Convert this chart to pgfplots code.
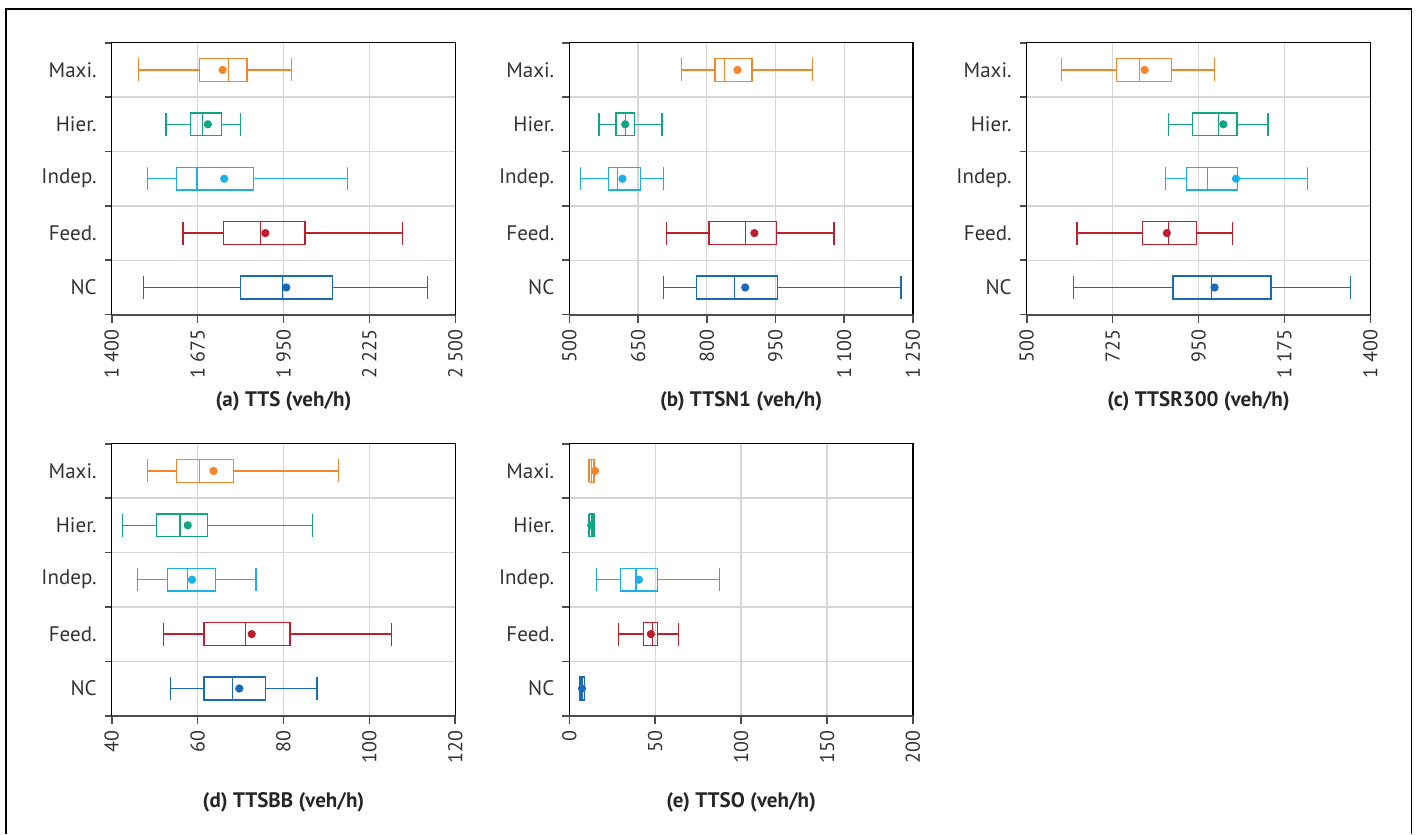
\documentclass[border=0pt]{standalone}
\usepackage{pgfplots}
\pgfplotsset{compat=1.18}
\usepgfplotslibrary{statistics}
\usepackage{fontspec}
\setmainfont{PT Sans}
\definecolor{cOr}{HTML}{F5862E}
\definecolor{cTe}{HTML}{11A683}
\definecolor{cLb}{HTML}{1CB0EA}
\definecolor{cRe}{HTML}{BE1E2D}
\definecolor{cBl}{HTML}{1A6AB8}
\definecolor{gridgray}{HTML}{D6D6D6}
\definecolor{axisgray}{HTML}{4D4D4D}
\definecolor{textgray}{HTML}{333333}
\newcommand{\bx}[8]{%
  \addplot[#1, solid, line width=0.65pt, boxplot prepared={draw position=#2, lower whisker=#3, lower quartile=#4, median=#5, upper quartile=#6, upper whisker=#7}] coordinates {};
  \addplot[#1, only marks, mark=*, mark size=1.85pt] coordinates {(#8,#2)};
}
\pgfplotsset{
  mybox/.style={
    width=171.8pt, height=136pt, scale only axis,
    ymin=0.5, ymax=5.5,
    ytick={1,2,3,4,5}, yticklabels={NC,Feed.,Indep.,Hier.,Maxi.},
    minor ytick={0.5,1.5,2.5,3.5,4.5,5.5},
    yminorgrids=true, xmajorgrids=true, ymajorgrids=false,
    grid style={line width=0.65pt, color=gridgray},
    minor grid style={line width=0.65pt, color=gridgray},
    tick align=outside,
    xtick pos=bottom, ytick pos=left,
    major tick length=4pt, minor tick length=3.5pt,
    tick style={line width=0.8pt, color=axisgray},
    major y tick style={draw=none},
    axis line style={line width=0.65pt, black},
    boxplot/draw direction=x,
    boxplot/box extend=0.42, boxplot/whisker extend=0.42,
    /pgf/number format/1000 sep={\hspace{0.25em}},
    /pgf/number format/assume math mode=true,
    xticklabel style={rotate=90, anchor=east, font=\fontsize{10}{11}\selectfont, text=textgray},
    yticklabel style={font=\fontsize{10.5}{12}\selectfont, text=textgray},
    xlabel style={font=\bfseries\fontsize{10.5}{12}\selectfont, text=black!85, at={(axis description cs:0.5,0)}, anchor=center, yshift=-43.5pt},
    after end axis/.code={\draw[line width=1pt, axisgray] (rel axis cs:0,0) -- (rel axis cs:1,0);},
  }
}
\begin{document}
\begin{tikzpicture}
\useasboundingbox (0,0) rectangle (708pt,417pt);
\draw[line width=0.65pt, black] (3pt,0) -- (3pt,412.5pt) -- (705.85pt,412.5pt) -- (705.85pt,0);
% (a)
\begin{axis}[mybox, at={(55.85pt,259.65pt)}, anchor=south west,
  xmin=1400, xmax=2500, xtick={1400,1675,1950,2225,2500}, xlabel={(a) TTS (veh/h)}]
\bx{cOr}{5}{1486}{1681}{1774}{1833}{1976}{1755}
\bx{cTe}{4}{1574}{1652}{1691}{1751}{1813}{1708}
\bx{cLb}{3}{1515}{1607}{1673}{1853}{2155}{1760}
\bx{cRe}{2}{1628}{1758}{1876}{2019}{2330}{1892}
\bx{cBl}{1}{1501}{1813}{1946}{2106}{2412}{1959}
\end{axis}
% (b)
\begin{axis}[mybox, at={(284.65pt,259.65pt)}, anchor=south west,
  xmin=500, xmax=1250, xtick={500,650,800,950,1100,1250}, xlabel={(b) TTSN1 (veh/h)}]
\bx{cOr}{5}{745}{818}{838}{899}{1031}{867}
\bx{cTe}{4}{565}{602}{622}{642}{702}{622}
\bx{cLb}{3}{525}{585}{605}{656}{705}{616}
\bx{cRe}{2}{712}{805}{885}{952}{1078}{904}
\bx{cBl}{1}{705}{778}{861}{955}{1224}{884}
\end{axis}
% (c)
\begin{axis}[mybox, at={(513.35pt,259.65pt)}, anchor=south west,
  xmin=500, xmax=1400, xtick={500,725,950,1175,1400}, xlabel={(c) TTSR300 (veh/h)}]
\bx{cOr}{5}{592}{735}{795}{880}{991}{809}
\bx{cTe}{4}{871}{935}{1003}{1051}{1132}{1015}
\bx{cLb}{3}{864}{919}{973}{1052}{1236}{1048}
\bx{cRe}{2}{632}{803}{871}{944}{1039}{867}
\bx{cBl}{1}{623}{883}{984}{1140}{1348}{992}
\end{axis}
% (d)
\begin{axis}[mybox, at={(55.85pt,59.15pt)}, anchor=south west,
  xmin=40, xmax=120, xtick={40,60,80,100,120}, xlabel={(d) TTSBB (veh/h)}]
\bx{cOr}{5}{48.4}{55.1}{60.5}{68.3}{92.8}{63.7}
\bx{cTe}{4}{42.5}{50.5}{55.9}{62.3}{86.8}{57.7}
\bx{cLb}{3}{46}{53}{57.7}{64.1}{73.6}{58.7}
\bx{cRe}{2}{52}{61.5}{71.1}{81.5}{105.2}{72.6}
\bx{cBl}{1}{53.7}{61.5}{68.2}{75.8}{87.8}{69.7}
\end{axis}
% (e)
\begin{axis}[mybox, at={(284.65pt,59.15pt)}, anchor=south west,
  xmin=0, xmax=200, xtick={0,50,100,150,200}, xlabel={(e) TTSO (veh/h)}]
\bx{cOr}{5}{11.5}{11.6}{12.8}{14.4}{14.5}{15}
\bx{cTe}{4}{11.5}{11.6}{13.2}{14.3}{14.4}{12.8}
\bx{cLb}{3}{15.7}{29.9}{38.8}{51.2}{87.5}{40.5}
\bx{cRe}{2}{28.7}{43.3}{48.5}{51.2}{63.6}{47.5}
\bx{cBl}{1}{6.2}{6.3}{7.4}{8.8}{8.9}{7.4}
\end{axis}
\end{tikzpicture}
\end{document}
